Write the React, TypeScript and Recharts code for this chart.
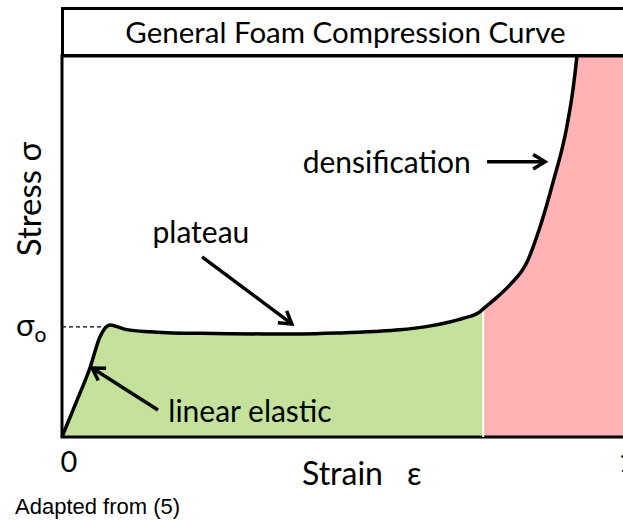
import React from 'react';
import {
  ComposedChart,
  Area,
  Line,
  XAxis,
  YAxis,
  ReferenceLine,
  ReferenceDot,
  ReferenceArea,
  Label,
} from 'recharts';

// strain (fraction) and stress (in units of the plateau stress sigma_o)
const strain = [
  0, 0.025, 0.05, 0.068, 0.086, 0.1, 0.116, 0.158, 0.199, 0.25, 0.3, 0.36, 0.427, 0.5, 0.56,
  0.606, 0.65, 0.695, 0.72, 0.749, 0.755, 0.78, 0.803, 0.833, 0.857, 0.88, 0.905, 0.916, 0.923,
  0.94, 1.02,
];
const stress = [
  0, 0.31, 0.627, 0.909, 1.018, 1.0, 0.975, 0.955, 0.945, 0.942, 0.938, 0.936, 0.936, 0.945,
  0.958, 0.973, 1.0, 1.045, 1.08, 1.136, 1.163, 1.27, 1.382, 1.582, 1.909, 2.309, 2.818, 3.155,
  3.455, 4.6, 9,
];
const densifyStart = 0.755;
const xTicks = [0, 1];
const yTicks = [1];
const X_MAX = 1.02;
const Y_MAX = 3.46;

const data = strain.map((s, i) => ({
  strain: s,
  stress: stress[i],
  plateau: s <= densifyStart ? stress[i] : null,
  dense: s >= densifyStart ? stress[i] : null,
}));

const FONT = 'Lato, "Open Sans", sans-serif';

const Arrow = (props: any) => {
  const { x1, y1, x2, y2 } = props;
  const ang = Math.atan2(y2 - y1, x2 - x1);
  const len = 14;
  const spread = 0.55;
  const ax = x2 - len * Math.cos(ang - spread);
  const ay = y2 - len * Math.sin(ang - spread);
  const bx = x2 - len * Math.cos(ang + spread);
  const by = y2 - len * Math.sin(ang + spread);
  return (
    <g>
      <line x1={x1} y1={y1} x2={x2} y2={y2} stroke="#000" strokeWidth={3.5} />
      <polyline
        points={`${ax},${ay} ${x2},${y2} ${bx},${by}`}
        fill="none"
        stroke="#000"
        strokeWidth={3.5}
        strokeLinejoin="miter"
      />
    </g>
  );
};

const note = (text: string) => (props: any) => (
  <text x={props.cx} y={props.cy} textAnchor="middle" fontFamily={FONT} fontSize={30} fill="#000">
    {text}
  </text>
);

const XTick = (props: any) => (
  <text x={props.x + 7} y={472} textAnchor="middle" fontFamily={FONT} fontSize={29} fill="#000">
    {props.payload.value}
  </text>
);

const YTick = (props: any) => (
  <text x={16} y={props.y + 9} fontFamily={FONT} fontSize={31} fill="#000">
    σ<tspan fontSize={21} dy={6}>o</tspan>
  </text>
);

const App: React.FC = () => {
  return (
    <div
      style={{
        position: 'fixed',
        left: 0,
        top: 0,
        width: 623,
        height: 522,
        overflow: 'hidden',
        background: '#fff',
      }}
    >
      <ComposedChart
        width={640}
        height={522}
        data={data}
        margin={{ top: 56, right: 9, bottom: 0, left: 0 }}
      >
        <XAxis
          dataKey="strain"
          type="number"
          domain={[0, X_MAX]}
          ticks={xTicks}
          axisLine={false}
          tickLine={false}
          tick={<XTick />}
          height={85}
        >
          <Label
            content={() => (
              <g fontFamily={FONT} fill="#000">
                <text x={302} y={485} fontSize={32}>Strain</text>
                <text x={407} y={485} fontSize={32}>ε</text>
                <text x={15} y={514} fontSize={22} fontFamily='"Liberation Sans", Arial, sans-serif'>
                  Adapted from (5)
                </text>
              </g>
            )}
          />
        </XAxis>
        <YAxis
          type="number"
          domain={[0, Y_MAX]}
          allowDataOverflow
          ticks={yTicks}
          axisLine={false}
          tickLine={false}
          tick={<YTick />}
          width={62}
        >
          <Label
            content={() => (
              <text
                x={41}
                y={199}
                transform="rotate(-90 41 199)"
                textAnchor="middle"
                fontFamily={FONT}
                fontSize={33}
                fill="#000"
              >
                Stress σ
              </text>
            )}
          />
        </YAxis>
        <Area
          dataKey="plateau"
          type="monotone"
          stroke="none"
          fill="#c4e29c"
          fillOpacity={1}
          isAnimationActive={false}
        />
        <Area
          dataKey="dense"
          type="monotone"
          stroke="none"
          fill="#ffb3b5"
          fillOpacity={1}
          isAnimationActive={false}
        />
        <ReferenceLine
          segment={[{ x: densifyStart, y: 0 }, { x: densifyStart, y: 1.2 }]}
          stroke="#fff"
          strokeWidth={2}
        />
        <ReferenceArea
          x1={0}
          x2={X_MAX}
          y1={0}
          y2={Y_MAX}
          fill="none"
          stroke="#000"
          strokeWidth={3}
        />
        <ReferenceLine
          segment={[{ x: 0, y: 1 }, { x: 0.082, y: 1 }]}
          stroke="#000"
          strokeWidth={1.3}
          strokeDasharray="4 3"
        />
        <Line
          dataKey="stress"
          type="monotone"
          stroke="#000"
          strokeWidth={3.5}
          dot={false}
          isAnimationActive={false}
        />
        <ReferenceLine segment={[{ x: 0.251, y: 1.636 }, { x: 0.412, y: 1.027 }]} shape={Arrow} />
        <ReferenceLine segment={[{ x: 0.762, y: 2.5 }, { x: 0.866, y: 2.5 }]} shape={Arrow} />
        <ReferenceLine segment={[{ x: 0.172, y: 0.245 }, { x: 0.054, y: 0.627 }]} shape={Arrow} />
        <ReferenceDot x={0.249} y={1.764} shape={note('plateau')} />
        <ReferenceDot x={0.582} y={2.4} shape={note('densification')} />
        <ReferenceDot x={0.337} y={0.136} shape={note('linear elastic')} />
      </ComposedChart>
      <div
        style={{
          position: 'absolute',
          left: 60.5,
          top: 7,
          width: 570,
          height: 50,
          boxSizing: 'border-box',
          border: '3px solid #000',
          background: '#fff',
          fontFamily: FONT,
          fontSize: 29.5,
          color: '#000',
          textAlign: 'center',
          lineHeight: '44px',
        }}
      >
        General Foam Compression Curve
      </div>
    </div>
  );
};

export default App;
